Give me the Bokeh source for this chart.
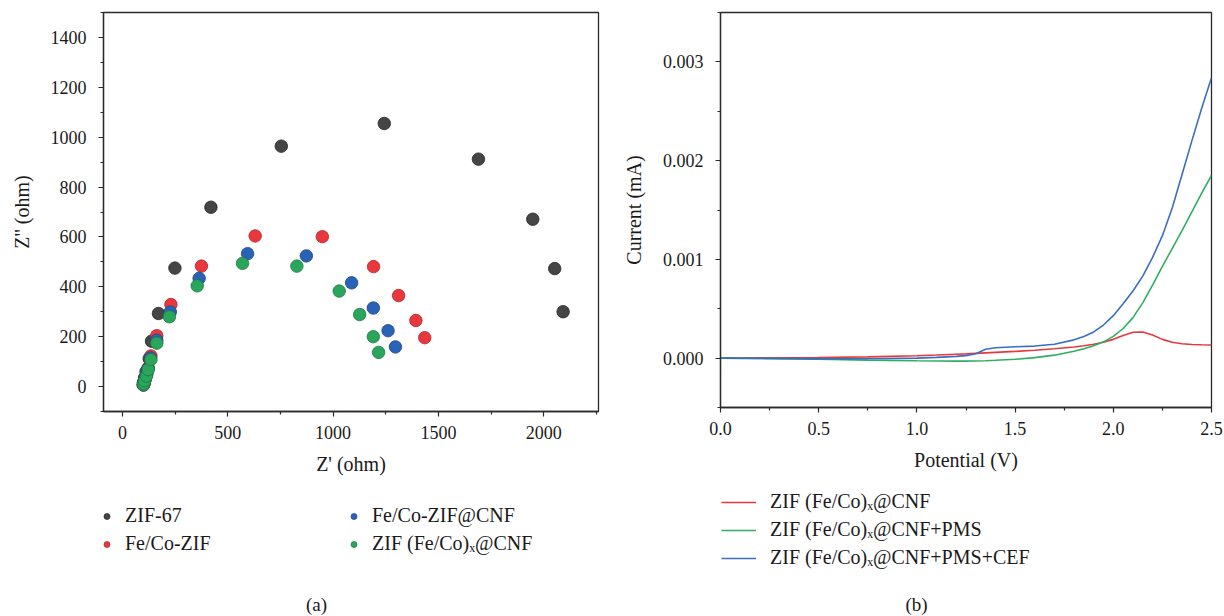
import numpy as np
from bokeh.plotting import figure
from bokeh.layouts import row, column
from bokeh.models import (Range1d, FixedTicker, PrintfTickFormatter, Legend,
                          LegendItem, Label)
from bokeh.embed import file_html
from bokeh.resources import INLINE

# ---------------- Panel (a): Nyquist plots ----------------
zif67_re = [98, 100, 105, 112, 127, 138, 171, 249, 420, 754, 1243, 1690, 1948, 2052, 2092]
zif67_im = [8, 18, 35, 60, 112, 182, 293, 475, 719, 964, 1055, 912, 671, 473, 300]

fecozif_re = [100, 103, 108, 115, 122, 135, 163, 230, 375, 630, 949, 1192, 1311, 1393, 1435]
fecozif_im = [6, 14, 28, 48, 75, 123, 204, 329, 483, 604, 601, 481, 365, 265, 196]

fecozifcnf_re = [100, 103, 108, 116, 122, 133, 163, 227, 364, 594, 873, 1088, 1191, 1261, 1296]
fecozifcnf_im = [7, 16, 32, 55, 72, 115, 186, 299, 434, 533, 524, 416, 315, 224, 159]

zifx_re = [100, 101, 105, 114, 122, 135, 163, 223, 355, 570, 828, 1029, 1126, 1191, 1216]
zifx_im = [7, 12, 23, 42, 68, 108, 174, 280, 404, 494, 483, 383, 289, 200, 137]

labels_a = ["ZIF-67", "Fe/Co-ZIF", "Fe/Co-ZIF@CNF", "ZIF (Fe/Co)\u2093@CNF"]
colors_a = ["#454545", "#e8383d", "#2a62b6", "#2aa65c"]
edges_a = ["#262626", "#b0262b", "#1c4688", "#1d7a43"]

# ---------------- Panel (b): current vs potential ----------------
potential = [0.0, 0.25, 0.5, 0.75, 1.0, 1.1, 1.2, 1.25, 1.3, 1.35, 1.4, 1.5, 1.6, 1.7,
             1.8, 1.85, 1.9, 1.95, 2.0, 2.05, 2.1, 2.15, 2.2, 2.25, 2.3, 2.35, 2.4, 2.45, 2.5]
# values in units of 1e-3 mA
cur_cnf = [0.0, 0.003, 0.007, 0.013, 0.024, 0.031, 0.039, 0.043, 0.048, 0.053, 0.058, 0.068,
           0.080, 0.095, 0.113, 0.125, 0.140, 0.160, 0.190, 0.230, 0.262, 0.265, 0.235, 0.190,
           0.160, 0.145, 0.138, 0.135, 0.133]
cur_pms = [0.0, -0.005, -0.012, -0.020, -0.027, -0.029, -0.030, -0.030, -0.029, -0.026, -0.022,
           -0.012, 0.005, 0.030, 0.070, 0.095, 0.125, 0.165, 0.220, 0.300, 0.410, 0.560, 0.740,
           0.930, 1.110, 1.290, 1.480, 1.670, 1.850]
cur_cef = [0.0, -0.004, -0.008, -0.007, 0.0, 0.008, 0.018, 0.025, 0.045, 0.090, 0.105, 0.115,
           0.122, 0.140, 0.185, 0.220, 0.265, 0.335, 0.430, 0.550, 0.680, 0.830, 1.020, 1.240,
           1.520, 1.860, 2.200, 2.530, 2.840]
labels_b = ["ZIF (Fe/Co)\u2093@CNF", "ZIF (Fe/Co)\u2093@CNF+PMS", "ZIF (Fe/Co)\u2093@CNF+PMS+CEF"]
colors_b = ["#e8383d", "#2fae62", "#3a6ec4"]

FONT = "Liberation Serif"
TXT = "#1a1a1a"
FS = "18px"      # tick labels
FL = "20px"      # axis labels, legends


def style(p):
    p.grid.visible = False
    p.outline_line_color = "#2a2a2a"
    p.outline_line_width = 1.3
    p.background_fill_color = "white"
    p.border_fill_color = "white"
    for ax in (p.xaxis[0], p.yaxis[0]):
        ax.axis_line_color = "#2a2a2a"
        ax.axis_line_width = 1.3
        ax.major_tick_line_color = "#2a2a2a"
        ax.minor_tick_line_color = "#2a2a2a"
        ax.major_tick_line_width = 1.2
        ax.minor_tick_line_width = 1.2
        ax.major_tick_out = 5
        ax.major_tick_in = 0
        ax.minor_tick_out = 3
        ax.minor_tick_in = 0
        ax.major_label_text_font = FONT
        ax.major_label_text_font_size = FS
        ax.major_label_text_color = TXT
        ax.axis_label_text_font = FONT
        ax.axis_label_text_font_size = FL
        ax.axis_label_text_font_style = "normal"
        ax.axis_label_text_color = TXT
    p.xaxis[0].axis_label_standoff = 11
    p.yaxis[0].axis_label_standoff = 15
    p.xaxis[0].major_label_standoff = 9
    p.yaxis[0].major_label_standoff = 12


def key_panel(width, height):
    # frame of this panel is aligned with the plot above it by the column layout
    q = figure(width=width, height=height, x_range=Range1d(-2, -1), y_range=Range1d(-2, -1),
               x_axis_type=None, y_axis_type=None, output_backend="svg",
               toolbar_location=None, min_border=0)
    q.grid.visible = False
    q.outline_line_color = None
    q.background_fill_color = "white"
    q.border_fill_color = "white"
    return q


# ---- figure (a)
p1 = figure(width=612, height=482, x_range=Range1d(-90, 2260), y_range=Range1d(-100, 1500),
            output_backend="svg", toolbar_location=None,
            min_border_left=103, min_border_right=14, min_border_top=12, min_border_bottom=71,
            x_axis_label="Z' (ohm)", y_axis_label="Z'' (ohm)")
style(p1)
p1.xaxis[0].ticker = FixedTicker(ticks=[0, 500, 1000, 1500, 2000],
                                 minor_ticks=[250, 750, 1250, 1750, 2250])
p1.yaxis[0].ticker = FixedTicker(ticks=list(range(0, 1401, 200)),
                                 minor_ticks=list(range(-100, 1501, 200)))

series_a = [(zif67_re, zif67_im), (fecozif_re, fecozif_im),
            (fecozifcnf_re, fecozifcnf_im), (zifx_re, zifx_im)]
q1 = key_panel(612, 134)
key_a = []
for (xs, ys), c, e in zip(series_a, colors_a, edges_a):
    p1.scatter(xs, ys, size=12.5, marker="circle", fill_color=c, line_color=e, line_width=0.8)
    key_a.append(q1.scatter(xs, ys, size=9, marker="circle", fill_color=c,
                            line_color=e, line_width=0.7))

leg1 = Legend(items=[LegendItem(label=l, renderers=[r]) for l, r in zip(labels_a, key_a)],
              ncols=2, location=(-4, 61), glyph_width=15, glyph_height=22, label_height=22,
              label_standoff=11, label_width=216, spacing=5, padding=0, margin=0,
              border_line_color=None, background_fill_alpha=0,
              label_text_font=FONT, label_text_font_size=FL, label_text_color=TXT)
q1.add_layout(leg1)
q1.add_layout(Label(x=213, y=12, x_units="screen", y_units="screen", text="(a)",
                    text_align="center", text_baseline="middle", text_font=FONT,
                    text_font_size="19px", text_color=TXT))

# ---- figure (b)
p2 = figure(width=612, height=478, x_range=Range1d(0, 2.5), y_range=Range1d(-0.0005, 0.0035),
            output_backend="svg", toolbar_location=None,
            min_border_left=108, min_border_right=13, min_border_top=12, min_border_bottom=71,
            x_axis_label="Potential (V)", y_axis_label="Current (mA)")
style(p2)
p2.xaxis[0].ticker = FixedTicker(ticks=[0, 0.5, 1.0, 1.5, 2.0, 2.5],
                                 minor_ticks=[0.25, 0.75, 1.25, 1.75, 2.25])
p2.yaxis[0].ticker = FixedTicker(ticks=[0, 0.001, 0.002, 0.003],
                                 minor_ticks=[-0.0005, 0.0005, 0.0015, 0.0025, 0.0035])
p2.xaxis[0].formatter = PrintfTickFormatter(format="%.1f")
p2.yaxis[0].formatter = PrintfTickFormatter(format="%.3f")

pot = np.array(potential)
q2 = key_panel(612, 138)
key_b = []
for cur, c in zip([cur_cnf, cur_pms, cur_cef], colors_b):
    ys = np.array(cur) * 1e-3
    p2.line(pot, ys, line_color=c, line_width=1.6)
    key_b.append(q2.line(pot, ys, line_color=c, line_width=1.6))

leg2 = Legend(items=[LegendItem(label=l, renderers=[r]) for l, r in zip(labels_b, key_b)],
              location=(1, 47), glyph_width=35, glyph_height=20, label_height=20,
              label_standoff=14, spacing=5, padding=0, margin=0,
              border_line_color=None, background_fill_alpha=0,
              label_text_font=FONT, label_text_font_size=FL, label_text_color=TXT)
q2.add_layout(leg2)
q2.add_layout(Label(x=196, y=12, x_units="screen", y_units="screen", text="(b)",
                    text_align="center", text_baseline="middle", text_font=FONT,
                    text_font_size="19px", text_color=TXT))

layout = row(column(p1, q1), column(p2, q2))
open("out.html", "w").write(file_html(layout, INLINE))
